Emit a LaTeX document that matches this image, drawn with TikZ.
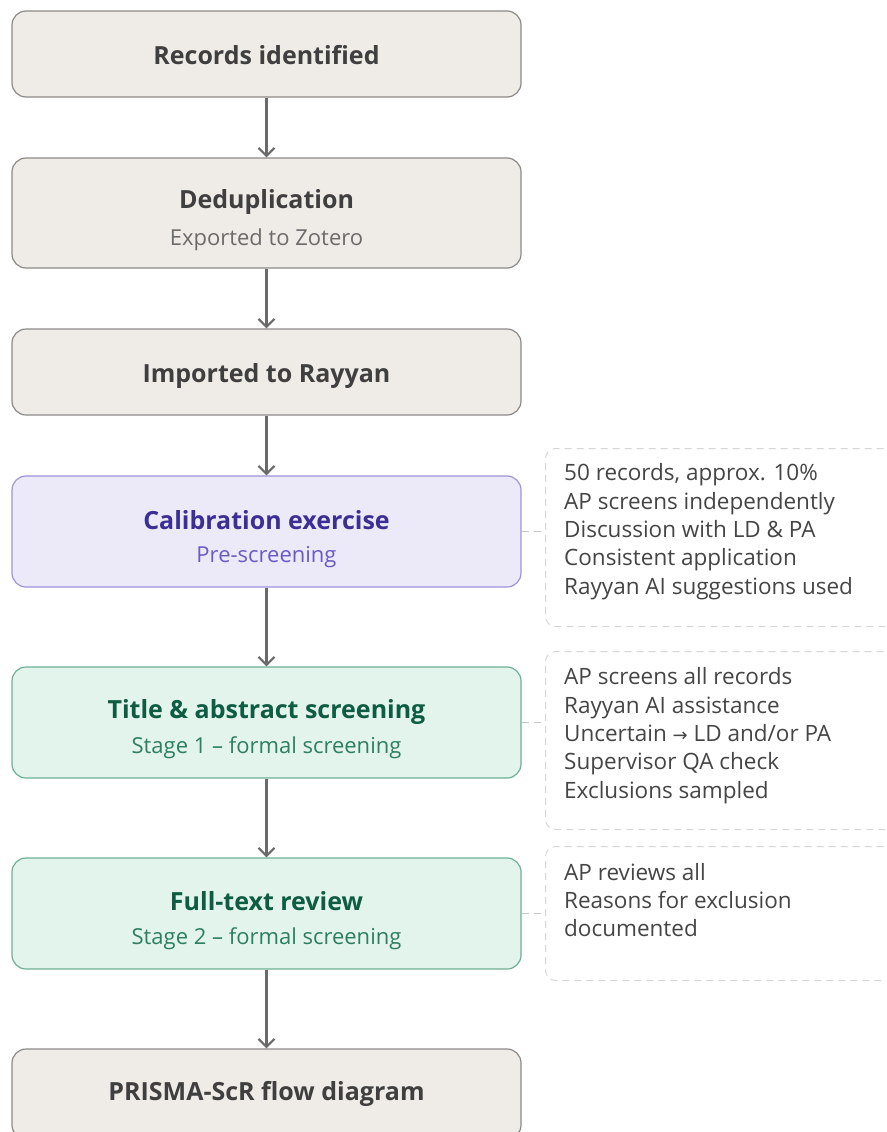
\documentclass[tikz,border=0pt]{standalone}
\usepackage{fontspec}
\setmainfont{Open Sans}
\newfontfamily\symfont{DejaVu Sans}
\usetikzlibrary{arrows.meta,positioning,calc}
\definecolor{grayfill}{HTML}{EFEBE7}
\definecolor{graydraw}{HTML}{8C8A88}
\definecolor{graytext}{HTML}{3F3F3F}
\definecolor{graysub}{HTML}{6B6B6B}
\definecolor{purpfill}{HTML}{ECEAF9}
\definecolor{purpdraw}{HTML}{9D94DA}
\definecolor{purptext}{HTML}{3B2F96}
\definecolor{purpsub}{HTML}{6A5BC4}
\definecolor{grnfill}{HTML}{E2F4EB}
\definecolor{grndraw}{HTML}{6DB096}
\definecolor{grntext}{HTML}{0F5C44}
\definecolor{grnsub}{HTML}{2E7F62}
\definecolor{notedraw}{HTML}{D6D6D6}
\definecolor{notetext}{HTML}{454545}
\definecolor{arrowc}{HTML}{6A6A6A}
\tikzset{
  stepbox/.style={draw=graydraw, fill=grayfill, line width=1.2pt, rounded corners=14pt, minimum width=509pt, inner sep=0pt},
  graybox/.style={stepbox},
  purpbox/.style={stepbox, draw=purpdraw, fill=purpfill},
  grnbox/.style={stepbox, draw=grndraw, fill=grnfill},
  ttl/.style={font=\fontsize{25}{29}\selectfont\bfseries, inner sep=0pt, anchor=center},
  sub/.style={font=\fontsize{22}{26}\selectfont, inner sep=0pt, anchor=center},
  notebox/.style={draw=notedraw, dashed, dash pattern=on 7pt off 5pt, line width=1pt, rounded corners=10pt, fill=white, minimum width=360pt, inner sep=0pt, anchor=north west},
  notetxt/.style={font=\fontsize{22.5}{28.3}\selectfont, text=notetext, align=left, anchor=north west, inner sep=0pt},
  flow/.style={draw=arrowc, line width=2.2pt, -{Straight Barb[length=8pt,width=16pt,line width=2.2pt]}},
  link/.style={draw=notedraw!80!gray, line width=1pt, dash pattern=on 7pt off 5pt}
}
\begin{document}
\begin{tikzpicture}[x=1pt,y=-1pt]
\useasboundingbox (0,0) rectangle (886,1132);
\begin{scope}
\clip (0,0) rectangle (886,1132);
% main boxes
\node[graybox, minimum height=86pt] (b1) at (266.5,54) {};
\node[graybox, minimum height=110pt] (b2) at (266.5,213) {};
\node[graybox, minimum height=86pt] (b3) at (266.5,372) {};
\node[purpbox, minimum height=111pt] (b4) at (266.5,531.5) {};
\node[grnbox, minimum height=111pt] (b5) at (266.5,722.5) {};
\node[grnbox, minimum height=111pt] (b6) at (266.5,913.5) {};
\node[graybox, minimum height=90pt] (b7) at (266.5,1094) {};
% texts
\node[ttl, text=graytext] (t1) at (266.5,55) {Records identified};
\node[ttl, text=graytext] (t2) at (266.5,202) {Deduplication};
\node[sub, text=graysub] (s2) at (266.5,240) {Exported to Zotero};
\node[ttl, text=graytext] (t3) at (266.5,376) {Imported to Rayyan};
\node[ttl, text=purptext] (t4) at (266.5,520) {Calibration exercise};
\node[sub, text=purpsub] (s4) at (266.5,557) {Pre-screening};
\node[ttl, text=grntext] (t5) at (266.5,712) {Title \& abstract screening};
\node[sub, text=grnsub] (s5) at (266.5,748) {Stage 1 -- formal screening};
\node[ttl, text=grntext] (t6) at (266.5,901) {Full-text review};
\node[sub, text=grnsub] (s6) at (266.5,939) {Stage 2 -- formal screening};
\node[ttl, text=graytext] (t7) at (266.5,1094) {PRISMA-ScR flow diagram};
% arrows
\draw[flow] (b1.south) -- (b2.north);
\draw[flow] (b2.south) -- (b3.north);
\draw[flow] (b3.south) -- (b4.north);
\draw[flow] (b4.south) -- (b5.north);
\draw[flow] (b5.south) -- (b6.north);
\draw[flow] (b6.south) -- (b7.north);
% notes
\node[notebox, minimum height=178pt] (n1) at (545,448) {};
\node[notebox, minimum height=178pt] (n2) at (545,651) {};
\node[notebox, minimum height=134pt] (n3) at (545,846) {};
\node[notetxt] (nt1) at (564,463.5) {50 records, approx. 10\%\\AP screens independently\\Discussion with LD \& PA\\Consistent application\\Rayyan AI suggestions used};
\node[notetxt] (nt2) at (564,667.5) {AP screens all records\\Rayyan AI assistance\\Uncertain {\symfont\fontsize{18}{28.3}\selectfont →} LD and/or PA\\Supervisor QA check\\Exclusions sampled};
\node[notetxt] (nt3) at (564,863) {AP reviews all\\Reasons for exclusion\\documented};
\draw[link] (b4.east) -- (b4.east -| n1.west);
\draw[link] (b5.east) -- (b5.east -| n2.west);
\draw[link] (b6.east) -- (b6.east -| n3.west);
\end{scope}
\end{tikzpicture}
\end{document}
